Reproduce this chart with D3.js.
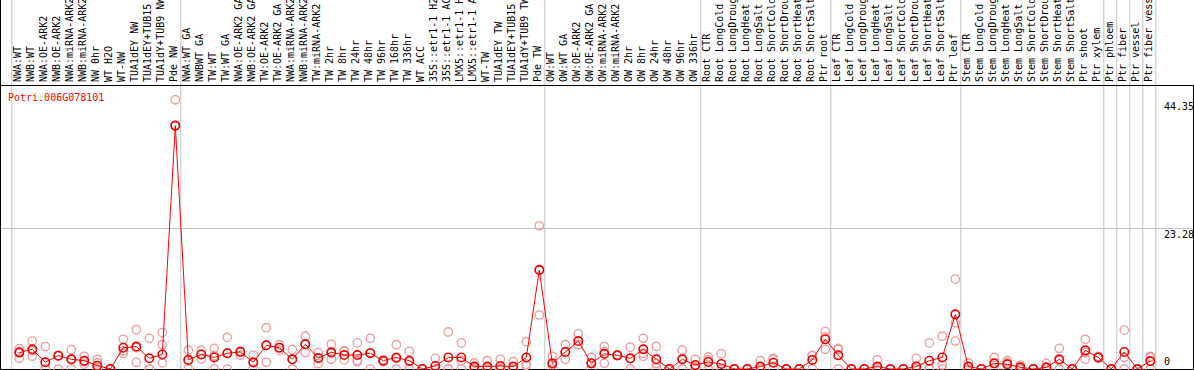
<!DOCTYPE html>
<html>
<head>
<meta charset="utf-8">
<script src="https://cdn.jsdelivr.net/npm/d3@7"></script>
<style>
  body { margin: 0; background: #fff; }
  svg { display: block; }
  text { font-family: "DejaVu Sans Mono", monospace; font-size: 10px; }
</style>
</head>
<body>
<script>
const w = 1194;
const h = 370;

// sample names, left to right
const labels = [
  "NWA:WT", "NWB:WT", "NWA:OE-ARK2", "NWB:OE-ARK2", "NWA:miRNA-ARK2", "NWB:miRNA-ARK2",
  "NW 0hr", "WT H2O", "WT-NW", "TUA1dEY NW", "TUA1dEY+TUB15 NW", "TUA1dY+TUB9 NW", "Pde NW",
  "NWA:WT GA", "NWBWT GA", "TW:WT", "TW:WT GA", "NWA:OE-ARK2 GA", "NWB:OE-ARK2 GA",
  "TW:OE-ARK2", "TW:OE-ARK2 GA", "NWA:miRNA-ARK2", "NWB:miRNA-ARK2", "TW:miRNA-ARK2",
  "TW 2hr", "TW 8hr", "TW 24hr", "TW 48hr", "TW 96hr", "TW 168hr", "TW 336hr", "WT ACC",
  "35S::etr1-1 H2O", "35S::etr1-1 ACC", "LMX5::etr1-1 H2O", "LMX5::etr1-1 ACC", "WT-TW",
  "TUA1dEY TW", "TUA1dEY+TUB15 TW", "TUA1dY+TUB9 TW", "Pde TW",
  "OW:WT", "OW:WT GA", "OW:OE-ARK2", "OW:OE-ARK2 GA", "OW:miRNA-ARK2", "OW:miRNA-ARK2",
  "OW 2hr", "OW 8hr", "OW 24hr", "OW 48hr", "OW 96hr", "OW 336hr",
  "Root CTR", "Root LongCold", "Root LongDrought", "Root LongHeat", "Root LongSalt",
  "Root ShortCold", "Root ShortDrought", "Root ShortHeat", "Root ShortSalt", "Ptr root",
  "Leaf CTR", "Leaf LongCold", "Leaf LongDrought", "Leaf LongHeat", "Leaf LongSalt",
  "Leaf ShortCold", "Leaf ShortDrought", "Leaf ShortHeat", "Leaf ShortSalt", "Ptr leaf",
  "Stem CTR", "Stem LongCold", "Stem LongDrought", "Stem LongHeat", "Stem LongSalt",
  "Stem ShortCold", "Stem ShortDrought", "Stem ShortHeat", "Stem ShortSalt", "Ptr shoot",
  "Ptr xylem", "Ptr phloem", "Ptr fiber", "Ptr vessel", "Ptr fiber vessel"
];

// mean expression per sample
const means = [
  2.7, 3.24, 1.1, 2.2, 1.6, 1.37, 0.55, 0, 3.5, 3.7, 1.76, 2.4, 40.1,
  1.5, 2.4, 1.9, 2.6, 2.8, 1.1, 3.9, 3.5, 1.6, 4.07, 1.8, 2.75, 2.3, 2.3, 2.6, 1.37, 1.9,
  1.37, 0, 0.5, 1.9, 1.9, 0.4, 0.4, 0.5, 0.4, 1.9, 16.3,
  0.93, 2.8, 4.6, 0.93, 2.5, 2.25, 1.76, 3.24, 1.6, 0, 1.6, 0.66,
  1.15, 0.82, 0, 0, 0.4, 1.04, 0, 0, 1.5, 4.9,
  2.25, 0, 0, 0.4, 0, 0, 0.4, 1.37, 1.9, 9.0,
  0.4, 0, 0.93, 0.77, 0.27, 0, 0.27, 1.6, 0, 3.07,
  1.9, 0, 2.8, 0, 1.3
];

// replicates
const repA = [
  3.35, 4.6, 3.7, 2.2, 3.2, 2.1, 1.6, 0, 4.9, 6.5, 5.05, 6.0, 44.35,
  3.1, 3.1, 3.4, 5.2, 2.3, 2.3, 6.8, 4.0, 3.2, 5.4, 2.7, 4.07, 3.0, 4.3, 5.05, 1.5, 4.0,
  2.9, 0, 1.76, 6.1, 4.3, 1.0, 1.37, 1.6, 1.2, 4.5, 23.6,
  2.1, 4.0, 5.8, 1.9, 3.7, 2.3, 3.6, 5.05, 3.7, 0, 3.1, 1.6,
  2.0, 2.5, 0, 0, 1.37, 1.76, 0, 0, 2.25, 6.15,
  3.4, 0, 0, 1.5, 0, 0, 1.76, 4.3, 5.4, 14.8,
  1.0, 0, 1.9, 1.37, 0.66, 0, 0.93, 3.4, 0, 4.9,
  2.1, 0, 6.4, 0, 2.1
];
const repB = [
  1.76, 2.1, 0, 0, 0, 0.8, 1.0, 0, 2.6, 1.1, 0, 4.0, 40.1,
  0, 1.65, 0, 0, 2.8, 0, 1.1, 3.1, 0, 2.7, 0.9, 1.6, 1.5, 1.2, 0, 1.2, 0,
  0, 0, 0, 0, 0, 0, 0, 0, 0, 0.8, 8.9,
  0, 1.6, 4.0, 0, 0.93, 2.2, 0, 2.1, 0.9, 0, 0, 0,
  1.5, 0, 0, 0, 0, 1.6, 0, 0, 0, 3.24,
  0, 0, 0, 0, 0, 0, 0, 0, 0.66, 4.6,
  0, 0, 0.9, 1.0, 0, 0, 0, 0, 0, 1.6,
  1.8, 0, 1.9, 0, 1.9
];
const repC = [
  2.9, 3.0, 0, 2.2, 1.6, 1.2, 0, 0, 3.0, 3.5, 0, 1.0, 40.1,
  1.5, 2.4, 2.2, 2.6, 3.0, 1.0, 3.9, 3.5, 1.6, 4.1, 1.8, 2.6, 2.9, 1.4, 2.7, 1.4, 1.7,
  1.2, 0, 0, 0, 1.4, 0.2, 0, 0, 0, 0.6, 16.4,
  0.7, 2.8, 4.0, 0.9, 2.9, 2.25, 1.7, 2.6, 0.2, 0, 1.7, 0.4,
  0, 0, 0, 0, 0, 0, 0, 0, 2.2, 5.3,
  3.2, 0, 0, 0, 0, 0, 0, 0, 0, 7.6,
  0, 0, 0, 0, 0, 0, 0, 1.4, 0, 2.7,
  1.9, 0, 0, 0, 0
];

// index of the last sample before each grey divider (-1 = left edge)
const groupEnds = [-1, 12, 40, 52, 62, 72, 83, 84, 85, 86, 87];
const tickValues = [0, 23.28, 44.35];
const tickLabels = ["0", "23.28", "44.35"];
const geneName = "Potri.006G078101";

const headerY = 85;
const baseY = 369;

let svg = d3.select("body")
            .append("svg")
            .attr("width", w)
            .attr("height", h);

let x = d3.scaleLinear()
          .domain([0, labels.length - 1])
          .range([19.3, 19.3 + 13 * (labels.length - 1)]);

let y = d3.scaleLinear()
          .domain([0, 44.35])
          .range([baseY, 99.8]);

// grey dividers between sample groups
svg.selectAll("line.sep")
   .data(groupEnds)
   .enter()
   .append("line")
   .attr("class", "sep")
   .attr("x1", (d) => x(d) + 5.5)
   .attr("x2", (d) => x(d) + 5.5)
   .attr("y1", 0)
   .attr("y2", h)
   .attr("stroke", "#c4c4c4")
   .attr("stroke-width", 1);

// middle gridline
svg.append("line")
   .attr("x1", 1).attr("x2", 1193)
   .attr("y1", Math.round(y(tickValues[1])) + 0.5)
   .attr("y2", Math.round(y(tickValues[1])) + 0.5)
   .attr("stroke", "#c4c4c4");

// frame
svg.append("line").attr("x1", 0).attr("x2", w).attr("y1", headerY + 0.5).attr("y2", headerY + 0.5).attr("stroke", "#000");
svg.append("line").attr("x1", 0).attr("x2", w).attr("y1", baseY + 0.5).attr("y2", baseY + 0.5).attr("stroke", "#000");
svg.append("line").attr("x1", 0.5).attr("x2", 0.5).attr("y1", 0).attr("y2", h).attr("stroke", "#000");
svg.append("line").attr("x1", 1193.5).attr("x2", 1193.5).attr("y1", headerY).attr("y2", h).attr("stroke", "#000");

// rotated sample labels
svg.selectAll("text.lab")
   .data(labels)
   .enter()
   .append("text")
   .attr("class", "lab")
   .attr("transform", (d, i) => "translate(" + (x(i) + 1.8) + "," + (headerY - 3) + ") rotate(-90)")
   .attr("fill", "#000")
   .text((d) => d);

// axis labels on the right
svg.selectAll("text.tick")
   .data(tickValues)
   .enter()
   .append("text")
   .attr("class", "tick")
   .attr("x", 1164)
   .attr("y", (d) => d === 0 ? 365 : y(d) + 10)
   .attr("fill", "#000")
   .text((d, i) => tickLabels[i]);

// gene name
svg.append("text")
   .attr("x", 8)
   .attr("y", 101)
   .attr("fill", "#ff0000")
   .text(geneName);

// replicate points
let reps = [];
[repA, repB, repC].forEach((arr) => {
  arr.forEach((v, i) => { if (v !== null) reps.push({ i: i, v: v }); });
});

svg.selectAll("circle.rep")
   .data(reps)
   .enter()
   .append("circle")
   .attr("class", "rep")
   .attr("cx", (d) => x(d.i))
   .attr("cy", (d) => y(d.v))
   .attr("r", 4.2)
   .attr("fill", "none")
   .attr("stroke", "#ec9a9a")
   .attr("stroke-width", 1.3);

// mean line
let line = d3.line()
             .x((d, i) => x(i))
             .y((d) => y(d));

svg.append("path")
   .datum(means)
   .attr("d", line)
   .attr("fill", "none")
   .attr("stroke", "#ff0000")
   .attr("stroke-width", 1);

// mean points
svg.selectAll("circle.mean")
   .data(means)
   .enter()
   .append("circle")
   .attr("class", "mean")
   .attr("cx", (d, i) => x(i))
   .attr("cy", (d) => y(d))
   .attr("r", 4.2)
   .attr("fill", "none")
   .attr("stroke", "#f00000")
   .attr("stroke-width", 1.6);
</script>
</body>
</html>
